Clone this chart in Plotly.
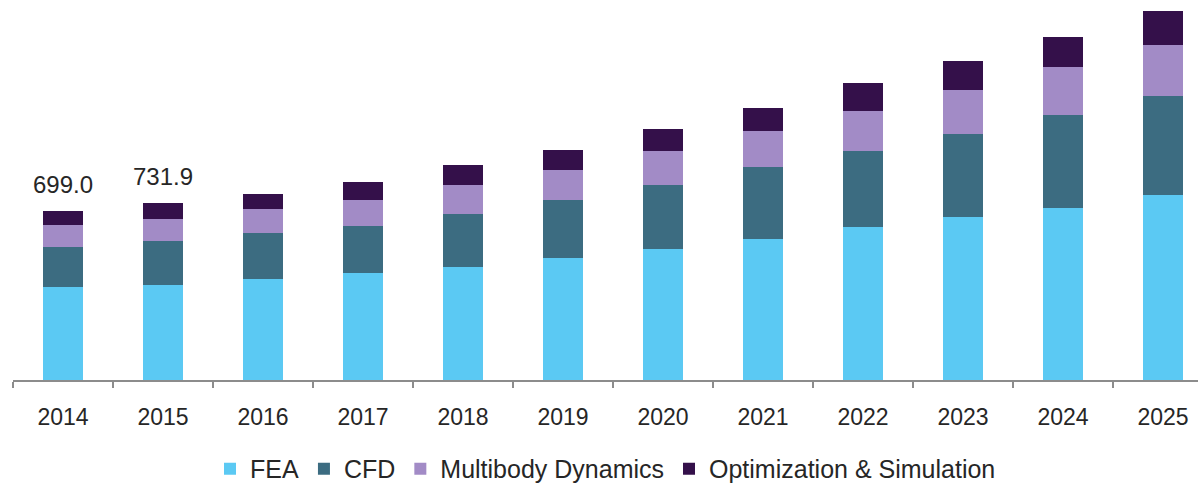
import plotly.graph_objects as go

years = ["2014", "2015", "2016", "2017", "2018", "2019", "2020", "2021", "2022", "2023", "2024", "2025"]
fea = [385, 392, 418, 441, 466, 507, 541, 582, 632, 673, 714, 765]
cfd = [164, 182, 189, 197, 223, 240, 265, 298, 314, 347, 381, 412]
multibody = [91, 91, 99, 109, 117, 124, 142, 150, 167, 182, 200, 208]
optimization = [59, 66.9, 66, 74, 83, 83, 91, 98, 115, 117, 124, 141]
labeled_years = ["2014", "2015"]
label_texts = ["699.0", "731.9"]

series = [
    ("FEA", fea, "#5BC9F3"),
    ("CFD", cfd, "#3C6C81"),
    ("Multibody Dynamics", multibody, "#A28BC6"),
    ("Optimization & Simulation", optimization, "#34104A"),
]

fig = go.Figure()
for name, vals, color in series:
    fig.add_trace(go.Bar(
        x=years, y=vals, name=name, width=0.4,
        marker=dict(color=color, line=dict(width=0)),
    ))

totals = [a + b + c + d for a, b, c, d in zip(fea, cfd, multibody, optimization)]
for yr, txt in zip(labeled_years, label_texts):
    i = years.index(yr)
    fig.add_annotation(
        x=i, y=totals[i], text=txt, showarrow=False,
        yanchor="middle", yshift=27,
        font=dict(family="Liberation Sans, Arial", size=24, color="#262626"),
    )

fig.update_layout(
    barmode="stack",
    width=1198, height=483,
    margin=dict(l=13, r=0, t=0, b=103),
    paper_bgcolor="white", plot_bgcolor="white",
    font=dict(family="Liberation Sans, Arial", color="#262626"),
    showlegend=True,
    legend=dict(
        orientation="h", x=0.5, xanchor="center",
        yref="container", y=0.029, yanchor="middle",
        font=dict(size=25, color="#262626"), traceorder="normal",
        itemwidth=30,
    ),
    bargap=0.6,
)
fig.update_xaxes(
    type="category", range=[-0.5, 11.35],
    showline=True, linecolor="#8C8C8C", linewidth=1.5,
    ticks="outside", ticklen=6, tickcolor="#8C8C8C", tickwidth=1.5,
    tickson="boundaries", showgrid=False,
    tickfont=dict(size=23, color="#262626"),
    ticklabelstandoff=16,
)
fig.update_yaxes(range=[0, 1573], visible=False, showgrid=False, zeroline=False)

fig.write_html("out.html", config={"displayModeBar": False},
               post_script="document.body.style.margin='0';")
